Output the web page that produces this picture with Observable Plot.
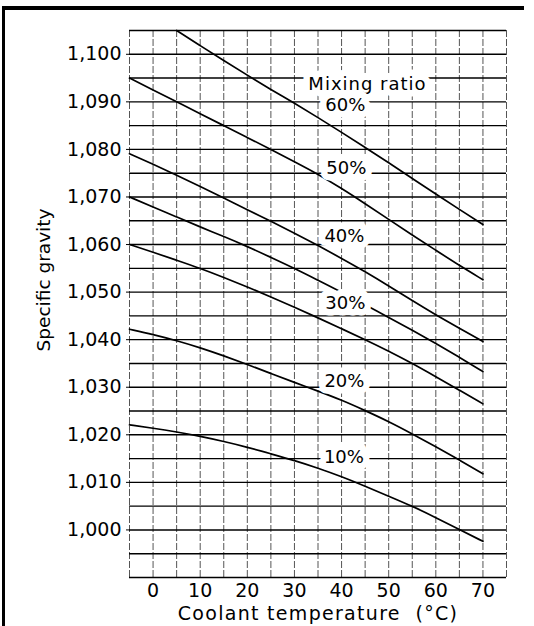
<!DOCTYPE html>
<html><head><meta charset="utf-8">
<script src="https://cdn.jsdelivr.net/npm/d3@7"></script>
<script src="https://cdn.jsdelivr.net/npm/@observablehq/plot@0.6"></script>
<style>
html,body{margin:0;padding:0;background:#fff;}
#wrap{position:relative;width:534px;height:626px;overflow:hidden;}
#frame{position:absolute;left:2px;top:6px;width:522px;height:640px;border-top:4px solid #000;border-left:3px solid #000;box-sizing:border-box;pointer-events:none;z-index:2;}
svg{display:block}
</style></head><body><div id="wrap"><div id="frame"></div></div>
<script>
// Coolant temperature (°C) sample points
const temps = [-5, 0, 5, 10, 15, 20, 25, 30, 35, 40, 45, 50, 55, 60, 65, 70];
// Specific gravity curves
const sg60 = [null, null, 1.1050, 1.1018, 1.0987, 1.0956, 1.0926, 1.0897, 1.0867, 1.0836, 1.0804, 1.0772, 1.0739, 1.0706, 1.0674, 1.0642];
const sg50 = [1.0950, 1.0925, 1.0900, 1.0875, 1.0850, 1.0825, 1.0800, 1.0774, 1.0748, 1.0718, 1.0686, 1.0653, 1.0620, 1.0588, 1.0556, 1.0526];
const sg40 = [1.0791, 1.0769, 1.0746, 1.0722, 1.0698, 1.0673, 1.0649, 1.0624, 1.0598, 1.0571, 1.0543, 1.0513, 1.0482, 1.0452, 1.0424, 1.0396];
const sg30 = [1.0700, 1.0679, 1.0658, 1.0637, 1.0617, 1.0596, 1.0573, 1.0550, 1.0525, 1.0500, 1.0473, 1.0447, 1.0420, 1.0392, 1.0363, 1.0333];
const sgUnlabelled = [1.0600, 1.0584, 1.0567, 1.0550, 1.0531, 1.0511, 1.0490, 1.0468, 1.0446, 1.0423, 1.0400, 1.0376, 1.0350, 1.0322, 1.0294, 1.0265];
const sg20 = [1.0422, 1.0411, 1.0398, 1.0383, 1.0366, 1.0348, 1.0329, 1.0310, 1.0292, 1.0273, 1.0251, 1.0228, 1.0202, 1.0175, 1.0147, 1.0118];
const sg10 = [1.0221, 1.0214, 1.0206, 1.0197, 1.0186, 1.0174, 1.0160, 1.0146, 1.0130, 1.0112, 1.0092, 1.0071, 1.0050, 1.0026, 1.0001, 0.9976];
const seriesNames = ["60%", "50%", "40%", "30%", "unlabelled", "20%", "10%"];
const seriesValues = [sg60, sg50, sg40, sg30, sgUnlabelled, sg20, sg10];

// Curve labels (anchor temperature / specific gravity)
const labelText = ["Mixing ratio", "60%", "50%", "40%", "30%", "20%", "10%"];
const labelTemp = [45.5, 40.8, 41.0, 40.6, 40.8, 40.6, 40.5];
const labelSG = [1.0938, 1.0893, 1.0761, 1.0617, 1.0476, 1.0312, 1.0152];

// Axis ticks
const xTicks = [0, 10, 20, 30, 40, 50, 60, 70];
const xTickLabels = ["0", "10", "20", "30", "40", "50", "60", "70"];
const yTicks = [1.000, 1.010, 1.020, 1.030, 1.040, 1.050, 1.060, 1.070, 1.080, 1.090, 1.100];
const yTickLabels = ["1,000", "1,010", "1,020", "1,030", "1,040", "1,050", "1,060", "1,070", "1,080", "1,090", "1,100"];
const xTitle = "Coolant temperature\u00a0\u00a0(°C)";
const yTitle = "Specific gravity";

const rows = [];
seriesNames.forEach((name, k) => temps.forEach((t, i) => rows.push({series: name, t, v: seriesValues[k][i]})));
const labels = labelText.map((text, i) => ({text, t: labelTemp[i], v: labelSG[i]}));

const xDomain = [-5, 75];
const yDomain = [0.990, 1.105];
const vGrid = d3.range(-5, 75.1, 5);
const hGrid = d3.range(0, 24).map(i => +(0.990 + i * 0.005).toFixed(3));

const yFmt = new Map(yTicks.map((d, i) => [d.toFixed(3), yTickLabels[i]]));
const xFmt = new Map(xTicks.map((d, i) => [String(d), xTickLabels[i]]));

const chart = Plot.plot({
  width: 534, height: 626,
  marginLeft: 129, marginRight: 28, marginTop: 30, marginBottom: 49,
  style: {fontFamily: "DejaVu Sans", fontSize: "19px", color: "#000", background: "#fff", overflow: "visible"},
  x: {domain: xDomain, ticks: xTicks, tickSize: 0, tickPadding: 6, label: null, tickFormat: d => xFmt.get(String(d))},
  y: {domain: yDomain, ticks: yTicks, tickSize: 3, tickPadding: 5, label: null, tickFormat: d => yFmt.get(d.toFixed(3))},
  marks: [
    Plot.ruleX(vGrid, {stroke: "#555", strokeWidth: 1, strokeDasharray: "7,2"}),
    Plot.ruleY(hGrid, {stroke: "#000", strokeWidth: 1.4}),
    Plot.line(rows, {x: "t", y: "v", z: "series", stroke: "#000", strokeWidth: 1.7, curve: "basis"}),
    Plot.text(labels, {x: "t", y: "v", text: "text", fontSize: 18, fill: "#000", stroke: "#fff", strokeWidth: 13, strokeLinejoin: "round", paintOrder: "stroke"}),
    Plot.text([yTitle], {text: d => d, frameAnchor: "left", textAnchor: "middle", lineAnchor: "middle", rotate: -90, dx: -85, dy: -24, fontSize: 18.5, fill: "#000"}),
    Plot.text([xTitle], {text: d => d, frameAnchor: "bottom", textAnchor: "middle", lineAnchor: "middle", dy: 36, fontSize: 19, fill: "#000"})
  ]
});
const svg = d3.select(chart);
svg.selectAll("text").attr("paint-order", "stroke");
svg.selectAll("text").each(function() {
  const t = this.textContent;
  if (t === "Mixing ratio") this.style.letterSpacing = "1px";
  if (t === xTitle) this.style.letterSpacing = "1.3px";
});
document.getElementById("wrap").appendChild(chart);
</script></body></html>
